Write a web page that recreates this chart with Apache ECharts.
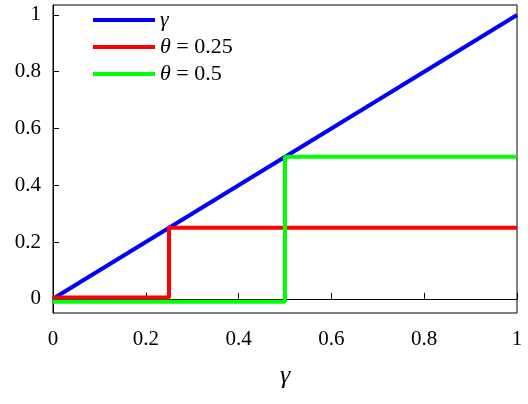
<!DOCTYPE html>
<html><head><meta charset="utf-8">
<script src="https://cdn.jsdelivr.net/npm/echarts@6/dist/echarts.min.js"></script>
<style>body{margin:0;background:#fff}#c{width:528px;height:404px}</style>
</head><body><div id="c"></div>
<script>
var gammaLine = [[0, 0], [1, 1]];
var theta25 = [[0, 0.005], [0.25, 0.005], [0.25, 0.25], [1, 0.25]];
var theta50 = [[0, -0.01], [0.5, -0.01], [0.5, 0.5], [1, 0.5]];
var xTicks = [0, 0.2, 0.4, 0.6, 0.8, 1];
var yTicks = [0, 0.2, 0.4, 0.6, 0.8, 1];

var font = 'Liberation Serif';
function fmt(v) {
    var r = Math.round(v * 10) / 10;
    return (xTicks.indexOf(r) >= 0 && Math.abs(v - r) < 1e-6) ? String(r) : '';
}
var chart = echarts.init(document.getElementById('c'));
chart.setOption({
    animation: false,
    textStyle: {fontFamily: font},
    grid: {left: 53, right: 11, top: 5, bottom: 91, show: true, borderColor: '#000', borderWidth: 1},
    legend: {
        left: 88, top: 4, orient: 'vertical', itemWidth: 62, itemHeight: 4, itemGap: 5,
        icon: 'rect',
        formatter: function (n) {
            if (n === 'γ') return '{i|γ}';
            return '{i|θ} = ' + n.split('= ')[1];
        },
        textStyle: {fontFamily: font, fontSize: 22, color: '#000',
            rich: {i: {fontFamily: font, fontSize: 22, fontStyle: 'italic', color: '#000'}}},
        data: ['γ', 'θ = 0.25', 'θ = 0.5']
    },
    xAxis: {
        type: 'value', min: 0, max: 1, interval: 0.2,
        name: 'γ', nameLocation: 'middle', nameGap: 50,
        nameTextStyle: {fontFamily: font, fontSize: 26, fontStyle: 'italic', color: '#000'},
        axisLine: {lineStyle: {color: '#000', width: 1}},
        axisTick: {inside: true, length: 6, lineStyle: {color: '#000'}},
        axisLabel: {fontSize: 21, color: '#000', margin: 16, formatter: fmt},
        splitLine: {show: false}
    },
    yAxis: {
        type: 'value', min: -0.05, max: 1.035,
        axisLine: {show: true, lineStyle: {color: '#000', width: 1}},
        axisTick: {inside: true, length: 6, lineStyle: {color: '#000'},
            customValues: yTicks},
        axisLabel: {fontSize: 21, color: '#000', margin: 12, customValues: yTicks,
            formatter: function (v) { return String(Math.round(v * 10) / 10); }},
        splitLine: {show: false}
    },
    series: [
        {name: 'γ', type: 'line', data: gammaLine, symbol: 'none', color: '#0000ff', lineStyle: {width: 4}},
        {name: 'θ = 0.25', type: 'line', data: theta25, symbol: 'none', color: '#ff0000', lineStyle: {width: 4}},
        {name: 'θ = 0.5', type: 'line', data: theta50, symbol: 'none', color: '#00ff00', lineStyle: {width: 4}}
    ]
});
</script></body></html>
